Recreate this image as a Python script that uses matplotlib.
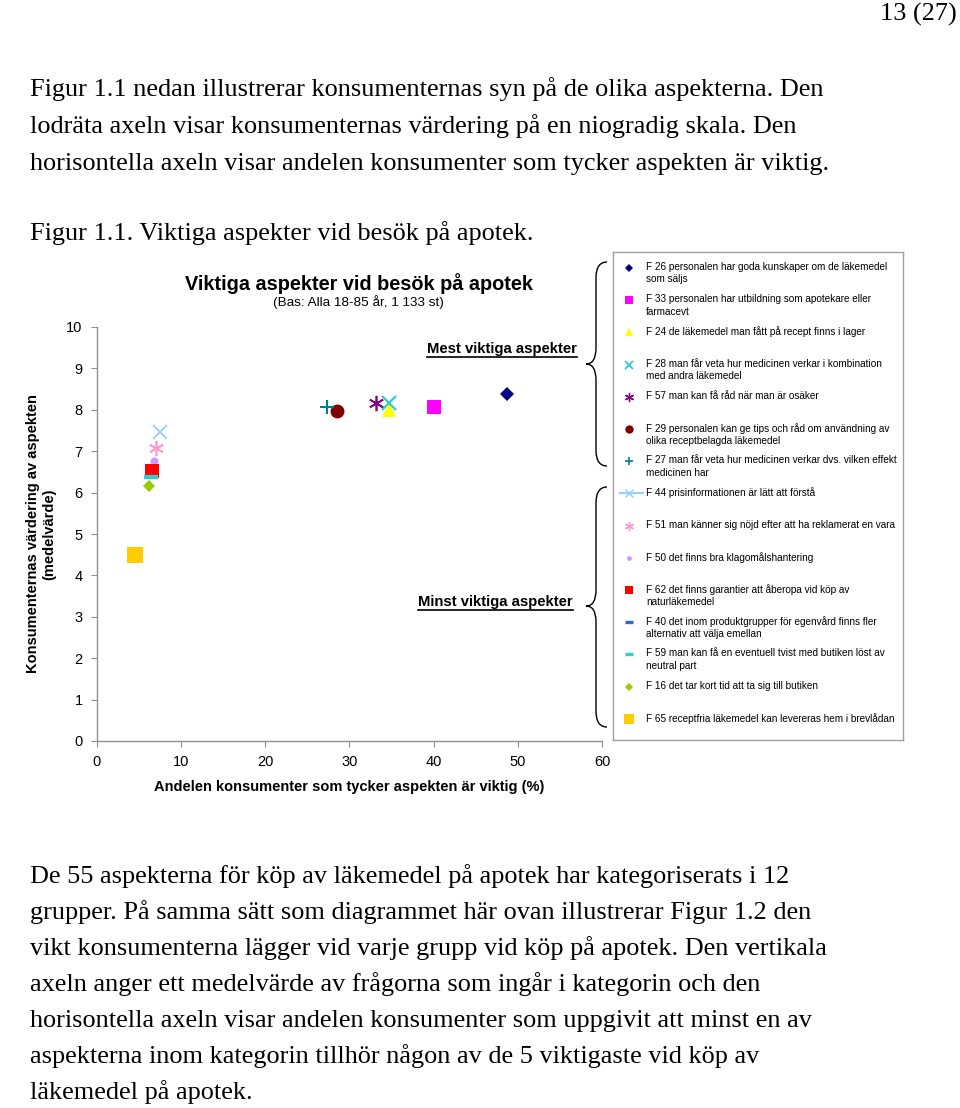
import matplotlib
matplotlib.use("Agg")
import matplotlib.pyplot as plt
from matplotlib.path import Path
from matplotlib.patches import PathPatch
from matplotlib.lines import Line2D

W, H = 960, 1108

# values
codes = ["F26", "F33", "F24", "F28", "F57", "F29", "F27", "F44",
         "F51", "F50", "F62", "F40", "F59", "F16", "F65"]
labels = [
    "F 26 personalen har goda kunskaper om de läkemedel\nsom säljs",
    "F 33 personalen har utbildning som apotekare eller\nfarmacevt",
    "F 24 de läkemedel man fått på recept finns i lager",
    "F 28 man får veta hur medicinen verkar i kombination\nmed andra läkemedel",
    "F 57 man kan få råd när man är osäker",
    "F 29 personalen kan ge tips och råd om användning av\nolika receptbelagda läkemedel",
    "F 27 man får veta hur medicinen verkar dvs. vilken effekt\nmedicinen har",
    "F 44 prisinformationen är lätt att förstå",
    "F 51 man känner sig nöjd efter att ha reklamerat en vara",
    "F 50 det finns bra klagomålshantering",
    "F 62 det finns garantier att åberopa vid köp av\nnaturläkemedel",
    "F 40 det inom produktgrupper för egenvård finns fler\nalternativ att välja emellan",
    "F 59 man kan få en eventuell tvist med butiken löst av\nneutral part",
    "F 16 det tar kort tid att ta sig till butiken",
    "F 65 receptfria läkemedel kan levereras hem i brevlådan",
]
andel = [48.7, 40.0, 34.7, 34.7, 33.2, 28.6, 27.3, 7.5,
         7.1, 6.8, 6.55, 6.5, 6.5, 6.2, 4.6]
varde = [8.37, 8.07, 8.0, 8.17, 8.17, 7.97, 8.07, 7.47,
         7.07, 6.77, 6.53, 6.37, 6.37, 6.17, 4.49]

x_ticks = [0, 10, 20, 30, 40, 50, 60]
y_ticks = [0, 1, 2, 3, 4, 5, 6, 7, 8, 9, 10]

star = (6, 2, 0)
# marker, colour, size, edge width
styles = {
    "F26": ("D", "#000080", 6.8, 0),
    "F33": ("s", "#FF00FF", 10, 0),
    "F24": ("^", "#FFFF00", 9.5, 0),
    "F28": ("x", "#33CCCC", 10, 1.6),
    "F57": (star, "#800080", 11, 1.2),
    "F29": ("o", "#800000", 10, 0),
    "F27": ("+", "#008080", 9.5, 1.5),
    "F44": ("x", "#99CCFF", 10, 1.3),
    "F51": (star, "#FF99CC", 11, 1.2),
    "F50": ("o", "#CC99FF", 5.8, 0),
    "F62": ("s", "#FF0000", 9.5, 0),
    "F40": ("_", "#3366CC", 10, 3),
    "F59": ("_", "#33CCCC", 10, 3),
    "F16": ("D", "#99CC00", 6.6, 0),
    "F65": ("s", "#FFCC00", 11.5, 0),
}


def fx(px):
    return px / W


def fy(py):
    return 1 - py / H


fig = plt.figure(figsize=(W / 100, H / 100), dpi=100)
fig.patch.set_facecolor("white")

serif = "Liberation Serif"
sans = "Liberation Sans"
body = 18.9

# page text
fig.text(fx(957), fy(21), "13 (27)", ha="right", va="baseline", family=serif, fontsize=body)
top_lines = [
    "Figur 1.1 nedan illustrerar konsumenternas syn på de olika aspekterna. Den",
    "lodräta axeln visar konsumenternas värdering på en niogradig skala. Den",
    "horisontella axeln visar andelen konsumenter som tycker aspekten är viktig.",
]
for i, line in enumerate(top_lines):
    fig.text(fx(30), fy(96 + 37 * i), line, ha="left", va="baseline", family=serif, fontsize=body)
fig.text(fx(30), fy(240), "Figur 1.1. Viktiga aspekter vid besök på apotek.",
         ha="left", va="baseline", family=serif, fontsize=body)

bottom_lines = [
    "De 55 aspekterna för köp av läkemedel på apotek har kategoriserats i 12",
    "grupper. På samma sätt som diagrammet här ovan illustrerar Figur 1.2 den",
    "vikt konsumenterna lägger vid varje grupp vid köp på apotek. Den vertikala",
    "axeln anger ett medelvärde av frågorna som ingår i kategorin och den",
    "horisontella axeln visar andelen konsumenter som uppgivit att minst en av",
    "aspekterna inom kategorin tillhör någon av de 5 viktigaste vid köp av",
    "läkemedel på apotek.",
]
for i, line in enumerate(bottom_lines):
    fig.text(fx(30), fy(883 + 36 * i), line, ha="left", va="baseline", family=serif, fontsize=body)

# scatter chart
ax = fig.add_axes([fx(96.5), fy(741), fx(602) - fx(96.5), fy(327) - fy(741)])
for c, xv, yv in zip(codes, andel, varde):
    m, col, ms, mew = styles[c]
    ax.plot([xv], [yv], linestyle="none", marker=m, color=col, markersize=ms,
            markeredgewidth=mew, markeredgecolor=col, clip_on=False)

ax.set_xlim(0, 60)
ax.set_ylim(0, 10)
ax.set_xticks(x_ticks)
ax.set_yticks(y_ticks)
for s in ["top", "right"]:
    ax.spines[s].set_visible(False)
for s in ["left", "bottom"]:
    ax.spines[s].set_color("#909090")
    ax.spines[s].set_linewidth(1)
ax.tick_params(direction="out", length=4, color="#909090", labelsize=10.5, pad=6)
for lab in ax.get_xticklabels() + ax.get_yticklabels():
    lab.set_family(sans)
ax.set_xlabel("Andelen konsumenter som tycker aspekten är viktig (%)",
              family=sans, fontsize=10.5, fontweight="bold", labelpad=8)
ax.set_ylabel("Konsumenternas värdering av aspekten\n(medelvärde)",
              family=sans, fontsize=10.5, fontweight="bold", labelpad=7)

fig.text(fx(359), fy(284), "Viktiga aspekter vid besök på apotek", ha="center", va="center",
         family=sans, fontsize=14.3, fontweight="bold")
fig.text(fx(358), fy(302), "(Bas: Alla 18-85 år, 1 133 st)", ha="center", va="center",
         family=sans, fontsize=9.7)

notes = [
    fig.text(fx(577), fy(349), "Mest viktiga aspekter", ha="right", va="center",
             family=sans, fontsize=10.7, fontweight="bold"),
    fig.text(fx(573), fy(602), "Minst viktiga aspekter", ha="right", va="center",
             family=sans, fontsize=10.7, fontweight="bold"),
]


def brace(y0, y1, yc, xe=607, xs=596, xc=586, r=16):
    verts = [(xe, y0), (xs, y0), (xs, y0 + r),
             (xs, yc - r), (xs, yc), (xc, yc),
             (xs, yc), (xs, yc + r),
             (xs, y1 - r), (xs, y1), (xe, y1)]
    cds = [Path.MOVETO, Path.CURVE3, Path.CURVE3,
           Path.LINETO, Path.CURVE3, Path.CURVE3,
           Path.CURVE3, Path.CURVE3,
           Path.LINETO, Path.CURVE3, Path.CURVE3]
    pts = [(fx(a), fy(b)) for a, b in verts]
    fig.add_artist(PathPatch(Path(pts, cds), fill=False, edgecolor="black", lw=1,
                             transform=fig.transFigure))


brace(262, 466, 364)
brace(487, 727, 606)

# legend box, drawn by hand so the marker sits on the first text line
lax = fig.add_axes([fx(613), fy(740), fx(903) - fx(613), fy(252) - fy(740)])
lax.set_xlim(0, 290)
lax.set_ylim(488, 0)
lax.set_xticks([])
lax.set_yticks([])
for s in lax.spines.values():
    s.set_color("#A0A0A0")
    s.set_linewidth(1)
for i, (c, lab) in enumerate(zip(codes, labels)):
    row = 16 + 32.2 * i
    m, col, ms, mew = styles[c]
    if c == "F44":
        lax.plot([7, 30], [row, row], color=col, lw=1.5)
    lax.plot([16], [row], linestyle="none", marker=m, color=col, markersize=ms * 0.6,
             markeredgewidth=mew * 0.8, markeredgecolor=col)
    lax.text(33, row - 6, lab, ha="left", va="top", family=sans, fontsize=7.2,
             linespacing=1.3)

# underline the two notes
fig.canvas.draw()
rend = fig.canvas.get_renderer()
for t in notes:
    bb = t.get_window_extent(rend)
    yl = bb.y0 - 1
    fig.add_artist(Line2D([bb.x0 / W, bb.x1 / W], [yl / H, yl / H], color="black", lw=1.2,
                          transform=fig.transFigure))

fig.savefig("out.png", dpi=100, facecolor="white")
